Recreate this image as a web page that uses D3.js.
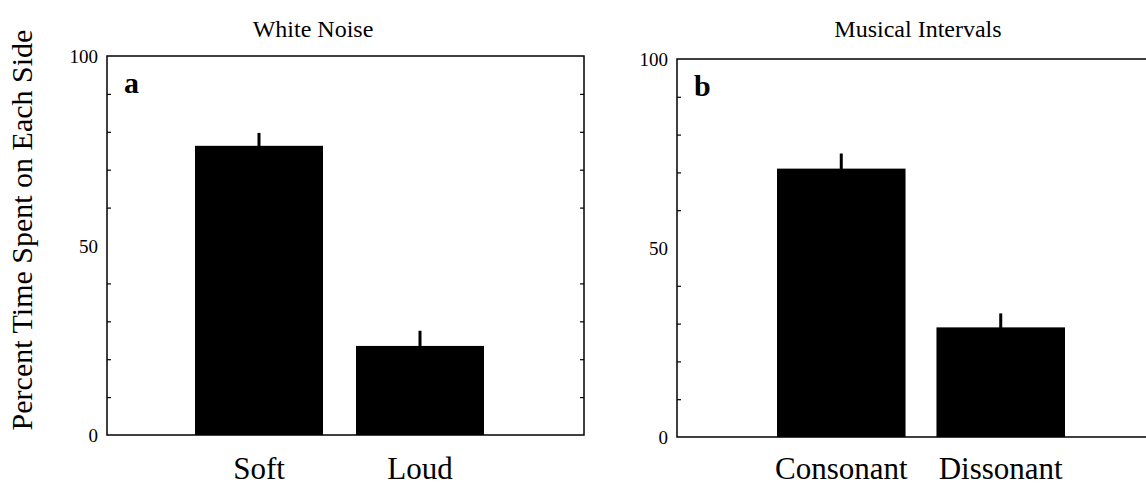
<!DOCTYPE html>
<html>
<head>
<meta charset="utf-8">
<script src="https://cdn.jsdelivr.net/npm/d3@7"></script>
<style>
  html, body { margin: 0; padding: 0; background: #fff; }
  svg { display: block; }
  text { font-family: "Liberation Serif", "DejaVu Serif", serif; fill: #000; }
</style>
</head>
<body>
<svg id="chart" width="1146" height="489"></svg>
<script>
// Panel a: white noise
const titleA = "White Noise";
const letterA = "a";
const categoriesA = ["Soft", "Loud"];
const valuesA = [76.3, 23.5];
const errorsA = [3.4, 4.0];

// Panel b: musical intervals
const titleB = "Musical Intervals";
const letterB = "b";
const categoriesB = ["Consonant", "Dissonant"];
const valuesB = [71, 29];
const errorsB = [4.0, 3.7];

// Axis ticks
const labeledTicks = [0, 50, 100];
const minorTicks = [10, 20, 30, 40, 60, 70, 80, 90];
const yDomain = [0, 100];
const yLabel = "Percent Time Spent on Each Side";

const panels = [
  { title: titleA, letter: letterA, cats: categoriesA, vals: valuesA, errs: errorsA,
    x0: 107, top: 56, bottom: 435, width: 477, band: [88, 377], pad: 0.205, titleX: 313 },
  { title: titleB, letter: letterB, cats: categoriesB, vals: valuesB, errs: errorsB,
    x0: 677, top: 59, bottom: 437, width: 477, band: [100, 388], pad: 0.194, titleX: 918 }
];

const svg = d3.select("#chart");

// Shared y-axis title
svg.append("text")
  .attr("transform", "translate(32,230) rotate(-90)")
  .attr("text-anchor", "middle")
  .style("font-size", "30px")
  .text(yLabel);

panels.forEach(p => {
  const g = svg.append("g").attr("transform", `translate(${p.x0},0)`);
  const y = d3.scaleLinear().domain(yDomain).range([p.bottom, p.top]);
  const x = d3.scaleBand().domain(p.cats).range(p.band)
    .paddingInner(p.pad).paddingOuter(0);

  // Bars
  g.selectAll("rect.bar").data(p.cats).join("rect")
    .attr("class", "bar")
    .attr("x", d => x(d))
    .attr("width", x.bandwidth())
    .attr("y", (d, i) => y(p.vals[i]))
    .attr("height", (d, i) => y(0) - y(p.vals[i]))
    .attr("fill", "#000");

  // Upper error bars
  g.selectAll("rect.err").data(p.cats).join("rect")
    .attr("class", "err")
    .attr("x", d => x(d) + x.bandwidth() / 2 - 1.5)
    .attr("width", 3)
    .attr("y", (d, i) => y(p.vals[i] + p.errs[i]))
    .attr("height", (d, i) => y(p.vals[i]) - y(p.vals[i] + p.errs[i]) + 1)
    .attr("fill", "#000");

  // Frame
  g.append("rect")
    .attr("x", 0).attr("y", p.top)
    .attr("width", p.width).attr("height", p.bottom - p.top)
    .attr("fill", "none").attr("stroke", "#000").attr("stroke-width", 1.5);

  // Left axis: labeled ticks, inward minor ticks
  const left = d3.axisLeft(y).tickValues(labeledTicks).tickSize(0).tickPadding(9);
  const la = g.append("g").call(left);
  la.select(".domain").remove();
  la.selectAll("text")
    .style("font-family", "'Liberation Serif', serif")
    .style("font-size", "19px")
    .attr("dy", "0.35em");

  const inner = d3.axisRight(y).tickValues(minorTicks).tickSize(4).tickFormat("");
  const ia = g.append("g").call(inner);
  ia.select(".domain").remove();
  ia.selectAll("line").attr("stroke-width", 1.2);

  const innerR = d3.axisLeft(y).tickValues(minorTicks).tickSize(4).tickFormat("");
  const ra = g.append("g").attr("transform", `translate(${p.width},0)`).call(innerR);
  ra.select(".domain").remove();
  ra.selectAll("line").attr("stroke-width", 1.2);

  // Category labels
  g.selectAll("text.cat").data(p.cats).join("text")
    .attr("class", "cat")
    .attr("x", d => x(d) + x.bandwidth() / 2)
    .attr("y", 479)
    .attr("text-anchor", "middle")
    .style("font-size", "31px")
    .text(d => d);

  // Panel letter
  g.append("text")
    .attr("x", 17).attr("y", p.top + 37)
    .style("font-size", "30px")
    .style("font-weight", "bold")
    .text(p.letter);

  // Panel title
  svg.append("text")
    .attr("x", p.titleX).attr("y", 37)
    .attr("text-anchor", "middle")
    .style("font-size", "24px")
    .text(p.title);
});
</script>
</body>
</html>
